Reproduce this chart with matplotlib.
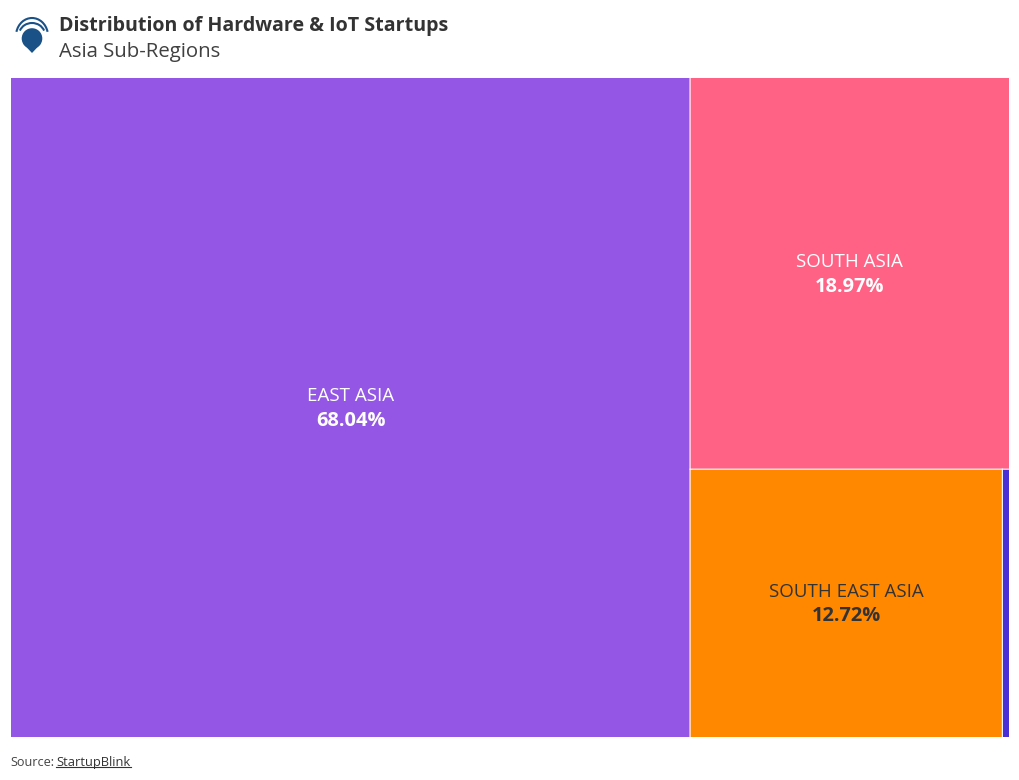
import matplotlib
matplotlib.use('Agg')
import matplotlib.pyplot as plt
from matplotlib.patches import Rectangle, Polygon, Circle, Arc

plt.rcParams['font.family'] = ['Open Sans', 'DejaVu Sans']

regions = ['EAST ASIA', 'SOUTH ASIA', 'SOUTH EAST ASIA', 'OTHER']
shares = [68.04, 18.97, 12.72, 0.27]
colors = ['#9457e5', '#ff6285', '#ff8800', '#4a2fd6']
textColors = ['white', 'white', '#333333', None]

fig = plt.figure(figsize=(10.2, 7.8), dpi=100)

# treemap area, in figure fractions from pixel positions
ax = fig.add_axes([11 / 1020, 1 - 737 / 780, 998 / 1020, 659 / 780])
ax.set_xlim(0, 100)
ax.set_ylim(100, 0)
ax.axis('off')

total = sum(shares)
rightTotal = total - shares[0]
leftW = shares[0] / total * 100
rightW = 100 - leftW
topH = shares[1] / rightTotal * 100
bottomH = 100 - topH
orangeW = shares[2] / (shares[2] + shares[3]) * rightW

boxes = [
    (0, 0, leftW, 100),
    (leftW, 0, rightW, topH),
    (leftW, topH, orangeW, bottomH),
    (leftW + orangeW, topH, rightW - orangeW, bottomH),
]

for i, (x, y, w, h) in enumerate(boxes):
    ax.add_patch(Rectangle((x, y), w, h, facecolor=colors[i], edgecolor='none', snap=False))
    if textColors[i] is None:
        continue
    cx = x + w / 2
    cy = y + h / 2
    ax.annotate(regions[i], (cx, cy), xytext=(0, 8), textcoords='offset points', ha='center', va='center',
                color=textColors[i], fontsize=13.5)
    ax.annotate('{0:.2f}%'.format(shares[i]), (cx, cy), xytext=(0, -9.5), textcoords='offset points', ha='center',
                va='center', color=textColors[i], fontsize=14.4, fontweight='bold')

# thin white dividers between the boxes
ax.plot([leftW, leftW], [0, 100], color='white', linewidth=0.8, snap=False)
ax.plot([leftW, 100], [topH, topH], color='white', linewidth=0.8, snap=False)
ax.plot([leftW + orangeW, leftW + orangeW], [topH, 100], color='white', linewidth=0.8, snap=False)

# overlay in pixel coordinates for header, logo and source
over = fig.add_axes([0, 0, 1, 1], zorder=5)
over.set_xlim(0, 1020)
over.set_ylim(780, 0)
over.axis('off')

over.text(59, 26, 'Distribution of Hardware & IoT Startups', fontsize=14.13, fontweight='bold', color='#333333', va='center')
over.text(59, 52.5, 'Asia Sub-Regions', fontsize=14.7, color='#404040', va='center')

over.text(10.5, 762.5, 'Source:', fontsize=9.1, color='#444444', va='center')
link = over.text(56.5, 762.5, 'StartupBlink', fontsize=9.3, color='#333333', va='center')
fig.canvas.draw()
linkEnd = link.get_window_extent().x1
over.plot([56.5, linkEnd], [767, 767], color='#333333', linewidth=0.8)

# logo: pin with two signal arcs
blue = '#1a5288'
over.add_patch(Circle((32, 38.5), 10.3, facecolor=blue, edgecolor='none'))
over.add_patch(Polygon([[23, 43.5], [41, 43.5], [32, 53]], closed=True, facecolor=blue, edgecolor='none'))
over.add_patch(Arc((32, 36), 32, 36, theta1=195, theta2=345, edgecolor=blue, linewidth=1.5))
over.add_patch(Arc((32, 35), 26, 24, theta1=200, theta2=340, edgecolor=blue, linewidth=1.5))

fig.savefig('out.png', dpi=100)
